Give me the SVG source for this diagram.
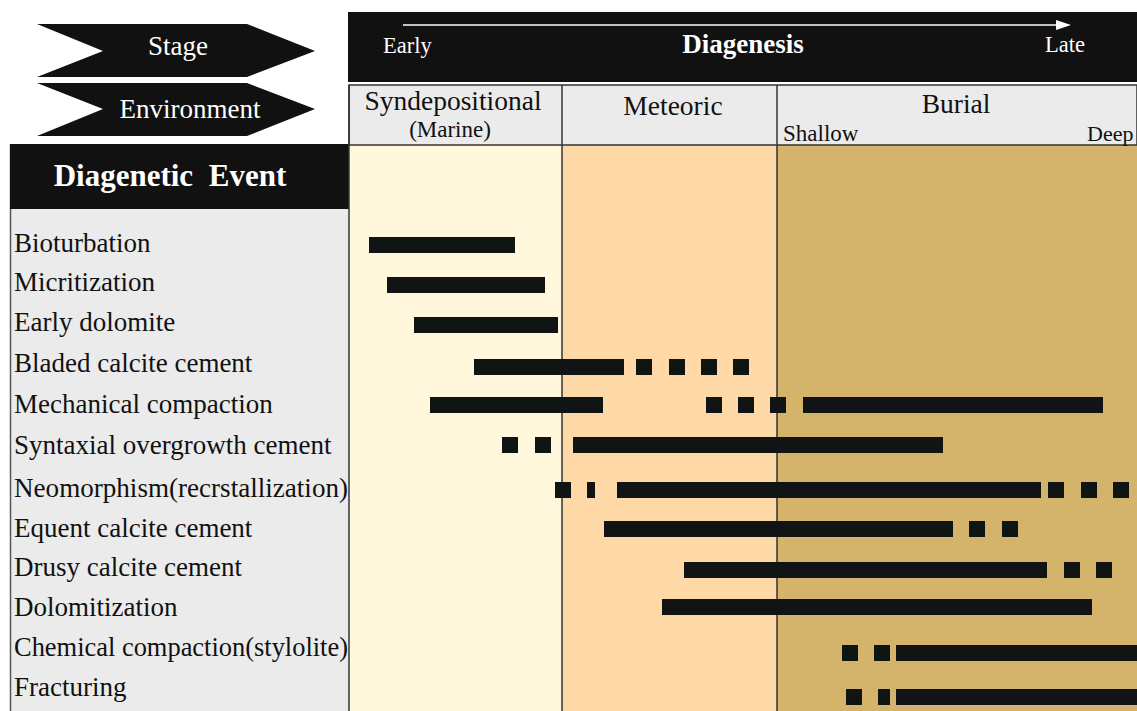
<svg xmlns="http://www.w3.org/2000/svg" width="1137" height="711" viewBox="0 0 1137 711">
<style>
.t{font-family:"Liberation Serif","Times New Roman",serif;}
.w{fill:#ffffff;}
.k{fill:#111111;}
.bar{fill:#111414;}
.div{stroke:#333333;stroke-width:1.5;fill:none;}
</style>
<rect width="1137" height="711" fill="#ffffff"/>
<g id="stage-arrow">
<polygon points="37,24 247,24 315,51 247,77 37,77 103,51" fill="#111111"/>
<text class="t w" x="178" y="55" font-size="27" text-anchor="middle">Stage</text>
</g>
<g id="environment-arrow">
<polygon points="37,83 247,83 315,109 247,136 37,136 103,109" fill="#111111"/>
<text class="t w" x="190" y="118" font-size="27" text-anchor="middle">Environment</text>
</g>
<g id="event-panel">
<rect x="10" y="209" width="339" height="502" fill="#ebebeb"/>
<line x1="10.5" y1="144" x2="10.5" y2="711" stroke="#555555" stroke-width="1.5"/>
<rect x="10" y="144" width="339" height="65" fill="#111111"/>
<text class="t w" x="170" y="186" font-size="31" font-weight="bold" text-anchor="middle" word-spacing="8">Diagenetic Event</text>
</g>
<g id="zones">
<rect x="349" y="145" width="213" height="566" fill="#fff8dc"/>
<rect x="562" y="145" width="215" height="566" fill="#fed8a6"/>
<rect x="777" y="145" width="360" height="566" fill="#d4b36b"/>
</g>
<g id="diagenesis-header">
<rect x="348" y="12" width="789" height="70" fill="#111111"/>
<line x1="403" y1="25" x2="1058" y2="25" stroke="#ffffff" stroke-width="1.5"/>
<polygon points="1056,20 1071,25 1056,30" fill="#ffffff"/>
<text class="t w" x="383" y="53" font-size="22.5">Early</text>
<text class="t w" x="743" y="53" font-size="27" font-weight="bold" text-anchor="middle">Diagenesis</text>
<text class="t w" x="1045" y="52" font-size="22.5">Late</text>
</g>
<g id="environment-row">
<rect x="349" y="85" width="788" height="60" fill="#ebebeb" stroke="#333333" stroke-width="1.5"/>
<text class="t k" x="453" y="110" font-size="27.5" text-anchor="middle">Syndepositional</text>
<text class="t k" x="450" y="137" font-size="23" text-anchor="middle">(Marine)</text>
<text class="t k" x="673" y="115" font-size="27.5" text-anchor="middle">Meteoric</text>
<text class="t k" x="956" y="113" font-size="27.5" text-anchor="middle">Burial</text>
<text class="t k" x="783" y="141" font-size="23">Shallow</text>
<text class="t k" x="1087" y="141" font-size="22">Deep</text>
</g>
<g id="dividers">
<line class="div" x1="349" y1="85" x2="349" y2="711"/>
<line class="div" x1="562" y1="85" x2="562" y2="711"/>
<line class="div" x1="777" y1="85" x2="777" y2="711"/>
</g>
<g id="labels" class="t k" font-size="27">
<text x="14" y="252">Bioturbation</text>
<text x="14" y="291">Micritization</text>
<text x="14" y="331">Early dolomite</text>
<text x="14" y="372">Bladed calcite cement</text>
<text x="14" y="413">Mechanical compaction</text>
<text x="14" y="454">Syntaxial overgrowth cement</text>
<text x="14" y="497" textLength="334" lengthAdjust="spacingAndGlyphs">Neomorphism(recrstallization)</text>
<text x="14" y="537">Equent calcite cement</text>
<text x="14" y="576">Drusy calcite cement</text>
<text x="14" y="616">Dolomitization</text>
<text x="14" y="656" textLength="334" lengthAdjust="spacingAndGlyphs">Chemical compaction(stylolite)</text>
<text x="14" y="696">Fracturing</text>
</g>
<g id="bars">
<rect class="bar" x="369" y="237" width="146" height="16"/>
<rect class="bar" x="387" y="277" width="158" height="16"/>
<rect class="bar" x="414" y="317" width="144" height="16"/>
<rect class="bar" x="474" y="359" width="150" height="16"/>
<rect class="bar" x="636" y="359" width="16" height="16"/>
<rect class="bar" x="669" y="359" width="16" height="16"/>
<rect class="bar" x="701" y="359" width="16" height="16"/>
<rect class="bar" x="733" y="359" width="16" height="16"/>
<rect class="bar" x="430" y="397" width="173" height="16"/>
<rect class="bar" x="706" y="397" width="16" height="16"/>
<rect class="bar" x="738" y="397" width="16" height="16"/>
<rect class="bar" x="770" y="397" width="16" height="16"/>
<rect class="bar" x="803" y="397" width="300" height="16"/>
<rect class="bar" x="502" y="437" width="16" height="16"/>
<rect class="bar" x="535" y="437" width="16" height="16"/>
<rect class="bar" x="573" y="437" width="370" height="16"/>
<rect class="bar" x="555" y="482" width="16" height="16"/>
<rect class="bar" x="587" y="482" width="8" height="16"/>
<rect class="bar" x="617" y="482" width="424" height="16"/>
<rect class="bar" x="1048" y="482" width="16" height="16"/>
<rect class="bar" x="1081" y="482" width="16" height="16"/>
<rect class="bar" x="1113" y="482" width="16" height="16"/>
<rect class="bar" x="604" y="521" width="349" height="16"/>
<rect class="bar" x="969" y="521" width="16" height="16"/>
<rect class="bar" x="1002" y="521" width="16" height="16"/>
<rect class="bar" x="684" y="562" width="363" height="16"/>
<rect class="bar" x="1064" y="562" width="16" height="16"/>
<rect class="bar" x="1096" y="562" width="16" height="16"/>
<rect class="bar" x="662" y="599" width="430" height="16"/>
<rect class="bar" x="842" y="645" width="16" height="16"/>
<rect class="bar" x="874" y="645" width="16" height="16"/>
<rect class="bar" x="896" y="645" width="241" height="16"/>
<rect class="bar" x="846" y="689" width="16" height="16"/>
<rect class="bar" x="878" y="689" width="12" height="16"/>
<rect class="bar" x="896" y="689" width="241" height="16"/>
</g>
</svg>
